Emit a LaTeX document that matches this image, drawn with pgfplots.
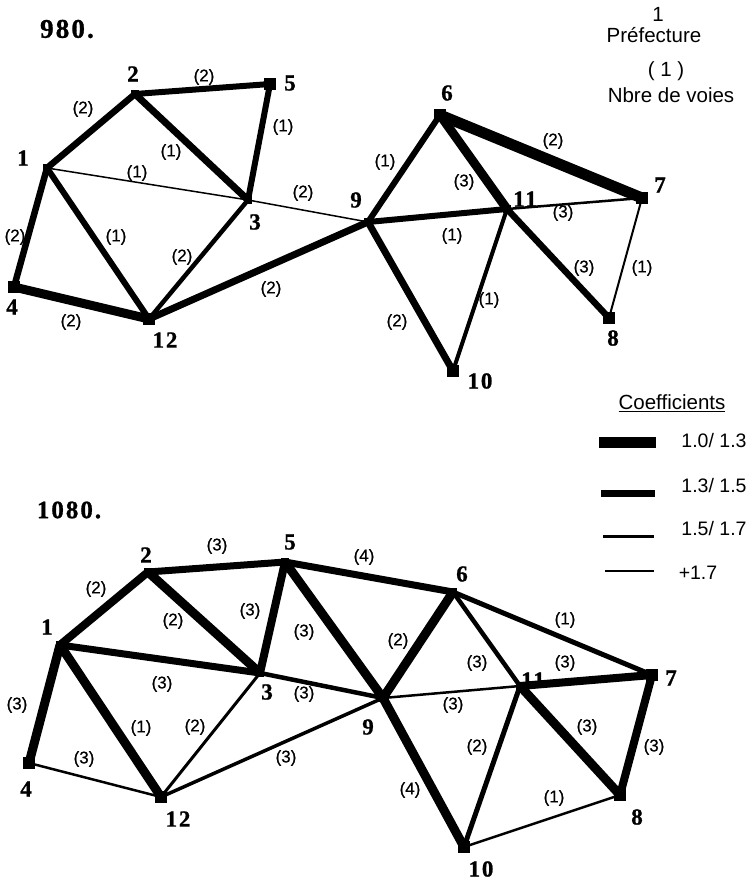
\documentclass[border=0pt]{standalone}
\usepackage{fontspec}
\usepackage{pgfplots}
\pgfplotsset{compat=1.18}
\setmainfont{Liberation Sans}
\newfontfamily\numfont[LetterSpace=8,BoldFeatures={FakeBold=1}]{Liberation Serif}
\newfontfamily\lanefont[FakeBold=0.5]{Liberation Sans}

% labels on the edges, number of lanes
\newcommand{\lanes}{\lanefont\fontsize{17}{18}\selectfont}
\newcommand{\prefs}{\numfont\bfseries\fontsize{23}{24}\selectfont}
\newcommand{\keyt}{\fontsize{20.5}{22}\selectfont}
\newcommand{\keyn}{\fontsize{19.5}{22}\selectfont}

\pgfplotsset{
  edge/.style={black,no markers,line width=#1,line join=round},
  stops/.style={only marks,mark=square*,mark size=#1,black,mark options={solid}},
  names/.style={only marks,mark=none,point meta=explicit symbolic,nodes near coords,
    nodes near coords align={center},
    every node near coord/.append style={anchor=center,inner sep=0pt,text=black,font=#1}},
}

\begin{document}
\begin{tikzpicture}
\begin{axis}[
    width=755pt, height=880pt,
    scale only axis,
    xmin=0, xmax=755, ymin=0, ymax=880,
    y dir=reverse,
    clip=false,
    hide axis,
]
% hide axis drops the frame from the page size
\path (axis cs:0,0) (axis cs:755,880);

% 980
\addplot[edge=6.5] coordinates {(47,168) (135,94)};
\addplot[edge=6] coordinates {(135,94) (270,84)};
\addplot[edge=7] coordinates {(135,94) (248,200)};
\addplot[edge=6] coordinates {(270,84) (248,200)};
\addplot[edge=1.5] coordinates {(47,168) (248,200)};
\addplot[edge=6.5] coordinates {(47,168) (14,287)};
\addplot[edge=6] coordinates {(47,168) (149,319)};
\addplot[edge=9] coordinates {(14,287) (149,319)};
\addplot[edge=4.5] coordinates {(149,319) (248,200)};
\addplot[edge=7] coordinates {(149,319) (368,222)};
\addplot[edge=1.5] coordinates {(248,200) (368,222)};
\addplot[edge=6] coordinates {(368,222) (440,115)};
\addplot[edge=9] coordinates {(440,115) (507,209)};
\addplot[edge=11] coordinates {(440,115) (642,198)};
\addplot[edge=6] coordinates {(368,222) (507,209)};
\addplot[edge=2.5] coordinates {(507,209) (642,198)};
\addplot[edge=6.5] coordinates {(507,209) (609,318)};
\addplot[edge=2] coordinates {(609,318) (642,198)};
\addplot[edge=7] coordinates {(368,222) (453,371)};
\addplot[edge=4] coordinates {(507,209) (453,371)};
\addplot[stops=5.5] coordinates {(14,287) (149,319) (453,371) (609,318) (642,198) (270,84) (440,115)};
\addplot[stops=3.5] coordinates {(47,168) (135,94) (248,200) (368,222) (507,209)};

% 1080
\addplot[edge=8] coordinates {(60,645) (148,572)};
\addplot[edge=7] coordinates {(148,572) (285,562)};
\addplot[edge=9] coordinates {(148,572) (260,673)};
\addplot[edge=8] coordinates {(285,562) (260,673)};
\addplot[edge=9] coordinates {(285,562) (383,698)};
\addplot[edge=7] coordinates {(285,562) (453,592)};
\addplot[edge=7] coordinates {(60,645) (260,673)};
\addplot[edge=4.5] coordinates {(260,673) (383,698)};
\addplot[edge=9] coordinates {(60,645) (29,763)};
\addplot[edge=9] coordinates {(60,645) (161,797)};
\addplot[edge=2.5] coordinates {(29,763) (161,797)};
\addplot[edge=3] coordinates {(161,797) (260,673)};
\addplot[edge=3.5] coordinates {(161,797) (383,698)};
\addplot[edge=9] coordinates {(383,698) (453,592)};
\addplot[edge=4.5] coordinates {(453,592) (520,686)};
\addplot[edge=5] coordinates {(453,592) (652,675)};
\addplot[edge=2.5] coordinates {(383,698) (520,686)};
\addplot[edge=8] coordinates {(520,686) (652,675)};
\addplot[edge=9] coordinates {(520,686) (620,795)};
\addplot[edge=8] coordinates {(620,795) (652,675)};
\addplot[edge=9] coordinates {(383,698) (464,847)};
\addplot[edge=5] coordinates {(520,686) (464,847)};
\addplot[edge=2.5] coordinates {(464,847) (620,795)};
\addplot[stops=5.5] coordinates {(29,763) (161,797) (464,847) (620,795) (652,675)};
\addplot[stops=3.5] coordinates {(60,645) (148,572) (285,562) (453,592) (260,673) (383,698) (520,686)};

% legend lines
\addplot[edge=11] coordinates {(599,442) (656,442)};
\addplot[edge=7] coordinates {(601,493) (655,493)};
\addplot[edge=3] coordinates {(603,536) (654,536)};
\addplot[edge=1.5] coordinates {(605,571) (654,571)};

% lanes
\addplot[names=\lanes] table[meta=l] {
x y l
83 109 (2)
204 77 (2)
283 127 (1)
171 152 (1)
137 173 (1)
303 193 (2)
15 237 (2)
116 237 (1)
182 257 (2)
271 289 (2)
71 322 (2)
385 162 (1)
553 141 (2)
464 182 (3)
563 213 (3)
452 236 (1)
584 268 (3)
642 268 (1)
489 300 (1)
397 322 (2)
96 589 (2)
217 546 (3)
364 557 (4)
173 621 (2)
250 611 (3)
304 632 (3)
162 684 (3)
304 694 (3)
17 705 (3)
141 728 (1)
195 727 (2)
84 759 (3)
286 758 (3)
398 641 (2)
565 620 (1)
477 663 (3)
565 663 (3)
453 705 (3)
587 727 (3)
654 747 (3)
477 747 (2)
410 790 (4)
554 798 (1)
};

% prefecture numbers
\addplot[names=\prefs] table[meta=l] {
x y l
23 158 1
133 74 2
255 222 3
12 307 4
290 83 5
447 93 6
660 185 7
613 338 8
356 200 9
480 381 10
525 199 11
165 340 12
47 627 1
146 555 2
267 692 3
26 789 4
290 542 5
462 574 6
671 678 7
637 817 8
368 727 9
481 869 10
533 680 11
178 819 12
};

\node[font=\numfont\bfseries\fontsize{27}{28}\selectfont] at (axis cs:67,29) {980.};
\node[font=\numfont\bfseries\fontsize{25}{28}\selectfont] at (axis cs:69,510) {1080.};
\node[font=\keyt] at (axis cs:658,14) {1};
\node[font=\keyt] at (axis cs:654,35) {Préfecture};
\node[font=\keyt] at (axis cs:666,71) {( 1 )};
\node[font=\keyt] at (axis cs:671,95) {Nbre de voies};
\node[font=\keyt] at (axis cs:672,403) {\underline{Coefficients}};
\node[font=\keyn] at (axis cs:714,441) {1.0/ 1.3};
\node[font=\keyn] at (axis cs:714,486) {1.3/ 1.5};
\node[font=\keyn] at (axis cs:714,529) {1.5/ 1.7};
\node[font=\keyn] at (axis cs:698,573) {+1.7};
\end{axis}
\end{tikzpicture}
\end{document}
